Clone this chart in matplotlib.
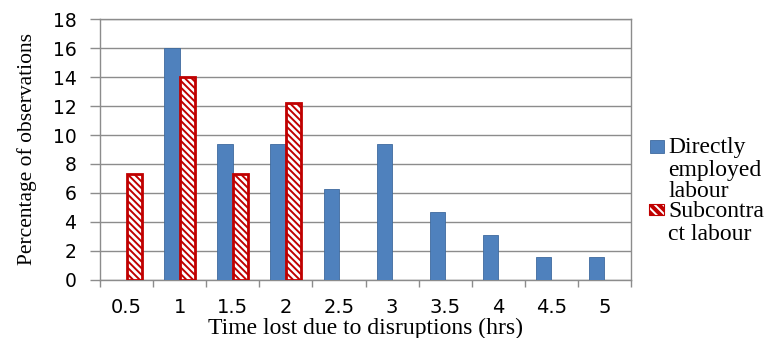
import matplotlib
matplotlib.use("Agg")
import matplotlib.pyplot as plt
import numpy as np
from matplotlib.patches import Rectangle

# Data
categories = ["0.5", "1", "1.5", "2", "2.5", "3", "3.5", "4", "4.5", "5"]
direct_labour = [0, 16, 9.4, 9.4, 6.25, 9.4, 4.7, 3.1, 1.55, 1.55]
subcontract_labour = [7.3, 14, 7.3, 12.2, 0, 0, 0, 0, 0, 0]
y_ticks = [0, 2, 4, 6, 8, 10, 12, 14, 16, 18]
legend_lines = [["Directly", "employed", "labour"], ["Subcontra", "ct labour"]]

blue = "#4F81BD"
blue_edge = "#3E6A9E"
red = "#C00000"
grid_grey = "#8C8C8C"

W, H = 782, 338
plt.rcParams["hatch.linewidth"] = 1.4

fig = plt.figure(figsize=(W / 100, H / 100), dpi=100)
ax = fig.add_axes([100 / W, 1 - 279.5 / H, 531 / W, 260 / H])

x = np.arange(len(categories))
d = np.array(direct_labour, dtype=float)
s = np.array(subcontract_labour, dtype=float)
w = 0.29
md = d > 0
ms = s > 0
ax.bar(x[md] - w / 2, d[md], width=w, color=blue, edgecolor=blue_edge,
       linewidth=0.6, zorder=3)
ax.bar(x[ms] + w / 2, s[ms], width=w, facecolor="white",
       edgecolor=red, linewidth=2.0, hatch="\\\\\\\\\\", zorder=3)

ax.set_xlim(-0.5, len(categories) - 0.5)
ax.set_ylim(0, 18)
ax.set_yticks(y_ticks)
ax.set_yticklabels([str(v) for v in y_ticks], fontsize=13.5, family="DejaVu Sans")
ax.set_xticks(x)
ax.set_xticklabels(categories, fontsize=14, family="DejaVu Sans")
ax.set_xticks(np.arange(-0.5, len(categories)), minor=True)

ax.tick_params(axis="x", which="major", length=0, pad=13)
ax.tick_params(axis="x", which="minor", length=5, color=grid_grey, width=1)
ax.tick_params(axis="y", which="major", length=7, color=grid_grey, width=1, pad=10)

ax.grid(axis="y", color=grid_grey, linewidth=1, zorder=0)
for sp in ax.spines.values():
    sp.set_color(grid_grey)
    sp.set_linewidth(1)

ax.set_xlabel("Time lost due to disruptions (hrs)", family="Liberation Serif",
              fontsize=17, labelpad=1)
ax.set_ylabel("Percentage of observations", family="Liberation Serif",
              fontsize=15.5, labelpad=11)


def fx(px):
    return px / W


def fy(py):
    return 1 - py / H


# Legend drawn beside the plot area
fig.add_artist(Rectangle((fx(650), fy(153)), 14 / W, 13 / H, transform=fig.transFigure,
                         facecolor=blue, edgecolor=blue_edge, linewidth=0.6))
fig.add_artist(Rectangle((fx(649), fy(215)), 15 / W, 11 / H, transform=fig.transFigure,
                         facecolor=red, edgecolor="white", hatch="\\\\\\\\", linewidth=0))
fig.add_artist(Rectangle((fx(649), fy(215)), 15 / W, 11 / H, transform=fig.transFigure,
                         fill=False, edgecolor=red, linewidth=0.8))

baselines = [[153, 176, 197], [217, 240]]
for lines, bases in zip(legend_lines, baselines):
    for line, b in zip(lines, bases):
        fig.text(fx(668), fy(b), line, family="Liberation Serif", fontsize=17,
                 va="baseline", ha="left")

fig.savefig("out.png", dpi=100)
